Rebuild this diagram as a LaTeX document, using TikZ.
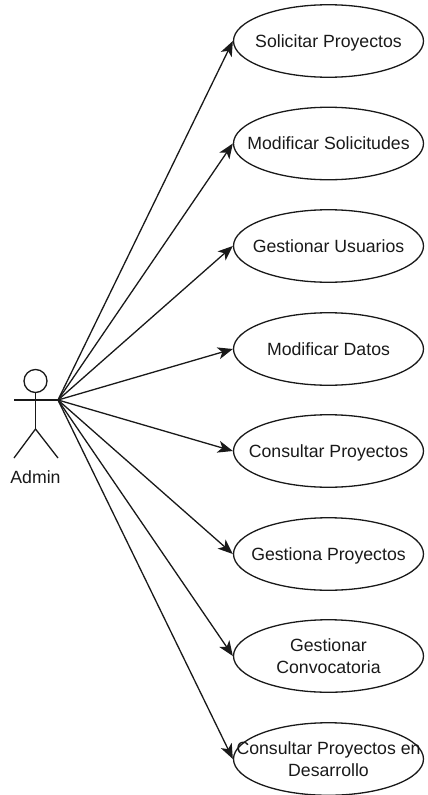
\documentclass[tikz,border=0pt]{standalone}
\usepackage{fontspec}
\setmainfont{Liberation Sans}
\usetikzlibrary{shapes.geometric,arrows.meta}
\tikzset{
  x=1pt,y=-1pt,
  usecase/.style={draw=black!90,line width=1.3pt,ellipse,inner sep=0pt,minimum width=190pt,minimum height=72.5pt,
    label={[txt,inner sep=0pt,yshift=-1.6pt]center:\strut #1}},
  txt/.style={align=center,font=\fontsize{17.7}{22}\selectfont,text=black!90},
  stick/.style={draw=black!90,line width=1.3pt},
  link/.style={draw=black!90,line width=1.3pt,-{Stealth[length=15pt,width=12pt,inset=4pt]}},
}
\begin{document}
\begin{tikzpicture}
\useasboundingbox (0,0) rectangle (428,795);
\node[usecase={Solicitar Proyectos}] (u1) at (328.5,41) {};
\node[usecase={Modificar Solicitudes}] (u2) at (328.5,143.5) {};
\node[usecase={Gestionar Usuarios}] (u3) at (328.5,246) {};
\node[usecase={Modificar Datos}] (u4) at (328.5,349) {};
\node[usecase={Consultar Proyectos}] (u5) at (328.5,451) {};
\node[usecase={Gestiona Proyectos}] (u6) at (328.5,554) {};
\node[usecase={Gestionar\\\strut Convocatoria}] (u7) at (328.5,656) {};
\node[usecase={Consultar Proyectos en\\\strut Desarrollo}] (u8) at (328.5,759) {};
% actor
\node[stick,circle,inner sep=0pt,minimum size=23pt] (head) at (35.5,381) {};
\coordinate (neck) at (35.5,429);
\coordinate (lhand) at (14,400);
\coordinate (rhand) at (58,400);
\coordinate (lfoot) at (14,458);
\coordinate (rfoot) at (58,458);
\draw[stick] (head.south) -- (neck);
\draw[stick] (lhand) -- (rhand);
\draw[stick] (lfoot) -- (neck) -- (rfoot);
\node[txt] (admin) at (35.5,477.5) {Admin};
\foreach \u in {u1,u2,u3,u4,u5,u6,u7,u8}
  \draw[link] (rhand) -- (\u.west);
\end{tikzpicture}
\end{document}
